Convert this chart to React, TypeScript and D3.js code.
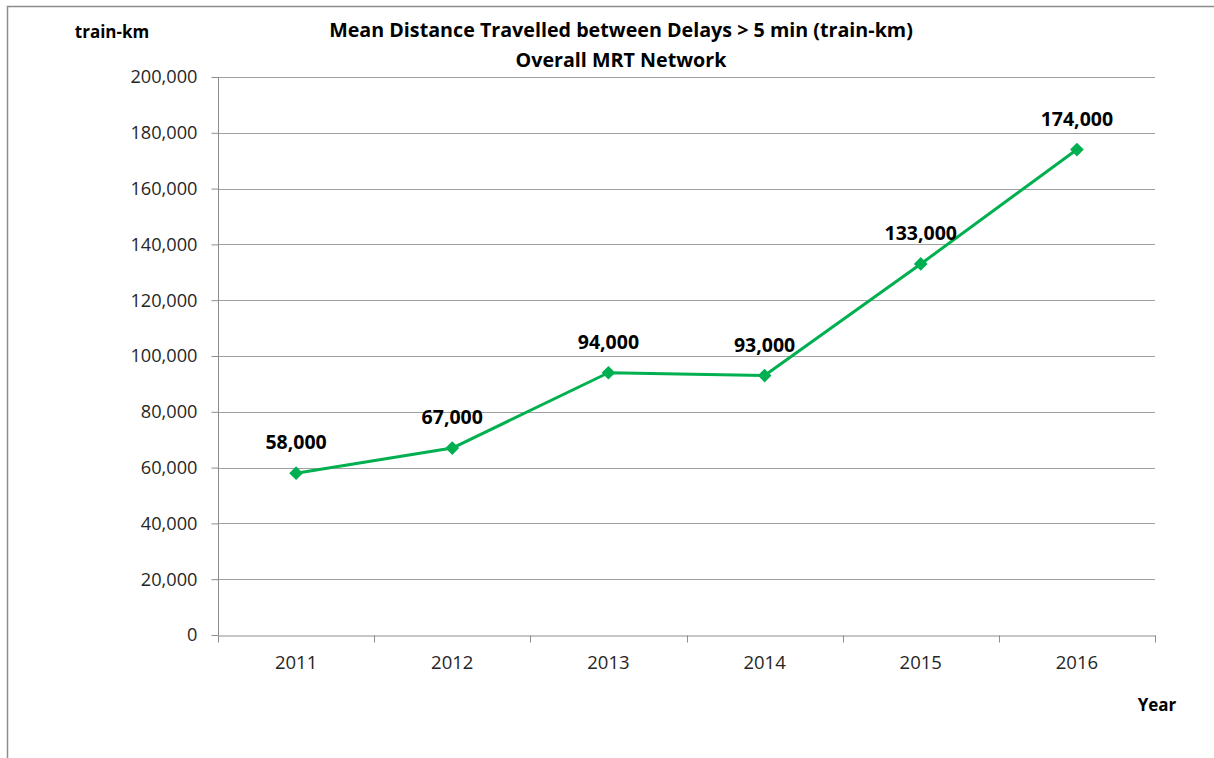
import * as d3 from 'd3';
import { useEffect, useRef } from 'react';

const YEARS = ['2011', '2012', '2013', '2014', '2015', '2016'];
const DISTANCE_KM = [58000, 67000, 94000, 93000, 133000, 174000];
const Y_TICKS = [0, 20000, 40000, 60000, 80000, 100000, 120000, 140000, 160000, 180000, 200000];

const TITLE_LINES = ['Mean Distance Travelled between Delays > 5 min (train-km)', 'Overall MRT Network'];
const FONT = "'Open Sans', 'Liberation Sans', sans-serif";
const GREEN = '#00b050';

export default function App() {
    const svgRef = useRef<SVGSVGElement | null>(null);

    useEffect(() => {
        if (!svgRef.current) {
            return;
        }
        const svg = d3.select(svgRef.current);
        svg.selectAll('*').remove();

        const width = 1214;
        const height = 758;
        const plot = { left: 218, right: 1155, top: 77, bottom: 635 };

        const x = d3.scaleBand().domain(YEARS).range([plot.left, plot.right]);
        const y = d3.scaleLinear().domain([0, 200000]).range([plot.bottom, plot.top]);
        const fmt = d3.format(',');

        svg.attr('width', width).attr('height', height).style('font-family', FONT);

        svg.append('rect')
            .attr('width', width)
            .attr('height', height)
            .attr('fill', '#fff');

        // outer chart frame (cut off at right and bottom)
        svg.append('path')
            .attr('d', `M7.5,${height + 2} V6.5 H${width + 2}`)
            .attr('fill', 'none')
            .attr('stroke', '#8c8c8c')
            .attr('stroke-width', 1.5);

        // grid lines
        svg.append('g')
            .selectAll('line')
            .data(Y_TICKS.filter((t) => t > 0))
            .join('line')
            .attr('x1', plot.left)
            .attr('x2', plot.right)
            .attr('y1', (d) => Math.round(y(d)) + 0.5)
            .attr('y2', (d) => Math.round(y(d)) + 0.5)
            .attr('stroke', '#a0a0a0')
            .attr('stroke-width', 1);

        // y axis
        const yAxis = svg.append('g')
            .attr('transform', `translate(${plot.left + 0.5},0)`)
            .call(d3.axisLeft(y).tickValues(Y_TICKS).tickSize(7).tickPadding(14).tickFormat((d) => fmt(d as number)));
        yAxis.select('.domain').attr('stroke', '#8c8c8c').attr('d', `M0,${plot.top}V${plot.bottom}`);
        yAxis.selectAll('.tick line').attr('stroke', '#8c8c8c');
        yAxis.selectAll('.tick text')
            .attr('font-size', 18.2)
            .attr('font-family', FONT)
            .attr('fill', '#262626');

        // x axis
        const xAxis = svg.append('g')
            .attr('transform', `translate(0,${plot.bottom + 0.5})`)
            .call(d3.axisBottom(x).tickSize(0).tickPadding(20));
        xAxis.select('.domain').attr('stroke', '#8c8c8c');
        xAxis.selectAll('.tick text')
            .attr('font-size', 18.5)
            .attr('font-family', FONT)
            .attr('fill', '#262626');
        xAxis.append('g')
            .selectAll('line')
            .data([...YEARS.map((d) => x(d) as number), plot.right])
            .join('line')
            .attr('x1', (d) => Math.round(d) + 0.5)
            .attr('x2', (d) => Math.round(d) + 0.5)
            .attr('y1', 0)
            .attr('y2', 7)
            .attr('stroke', '#8c8c8c');

        // series line
        const cx = (d: string) => (x(d) as number) + x.bandwidth() / 2;
        const line = d3.line<number>()
            .x((_, i) => cx(YEARS[i]))
            .y((d) => y(d));
        svg.append('path')
            .datum(DISTANCE_KM)
            .attr('d', line)
            .attr('fill', 'none')
            .attr('stroke', GREEN)
            .attr('stroke-width', 3)
            .attr('stroke-linejoin', 'round');

        const diamond = d3.symbol().type(d3.symbolDiamond2).size(120);
        svg.append('g')
            .selectAll('path')
            .data(DISTANCE_KM)
            .join('path')
            .attr('d', diamond)
            .attr('transform', (d, i) => `translate(${cx(YEARS[i])},${y(d)})`)
            .attr('fill', GREEN);

        // data labels
        svg.append('g')
            .selectAll('text')
            .data(DISTANCE_KM)
            .join('text')
            .attr('x', (_, i) => cx(YEARS[i]))
            .attr('y', (d) => y(d) - 24)
            .attr('text-anchor', 'middle')
            .attr('font-size', 19.5)
            .attr('font-weight', 700)
            .attr('fill', '#000')
            .text((d) => fmt(d));

        // titles
        svg.append('g')
            .selectAll('text')
            .data(TITLE_LINES)
            .join('text')
            .attr('x', 621)
            .attr('y', (_, i) => 37 + i * 30)
            .attr('text-anchor', 'middle')
            .attr('font-size', 19.7)
            .attr('font-weight', 700)
            .attr('fill', '#000')
            .text((d) => d);

        svg.append('text')
            .attr('x', 112)
            .attr('y', 38)
            .attr('text-anchor', 'middle')
            .attr('font-size', 17)
            .attr('font-weight', 700)
            .attr('fill', '#000')
            .text('train-km');

        svg.append('text')
            .attr('x', 1157)
            .attr('y', 711)
            .attr('text-anchor', 'middle')
            .attr('font-size', 17)
            .attr('font-weight', 700)
            .attr('fill', '#000')
            .text('Year');
    }, []);

    return (
        <svg
            ref={svgRef}
            style={{ display: 'block', position: 'absolute', left: 0, top: 0 }}
        />
    );
}
